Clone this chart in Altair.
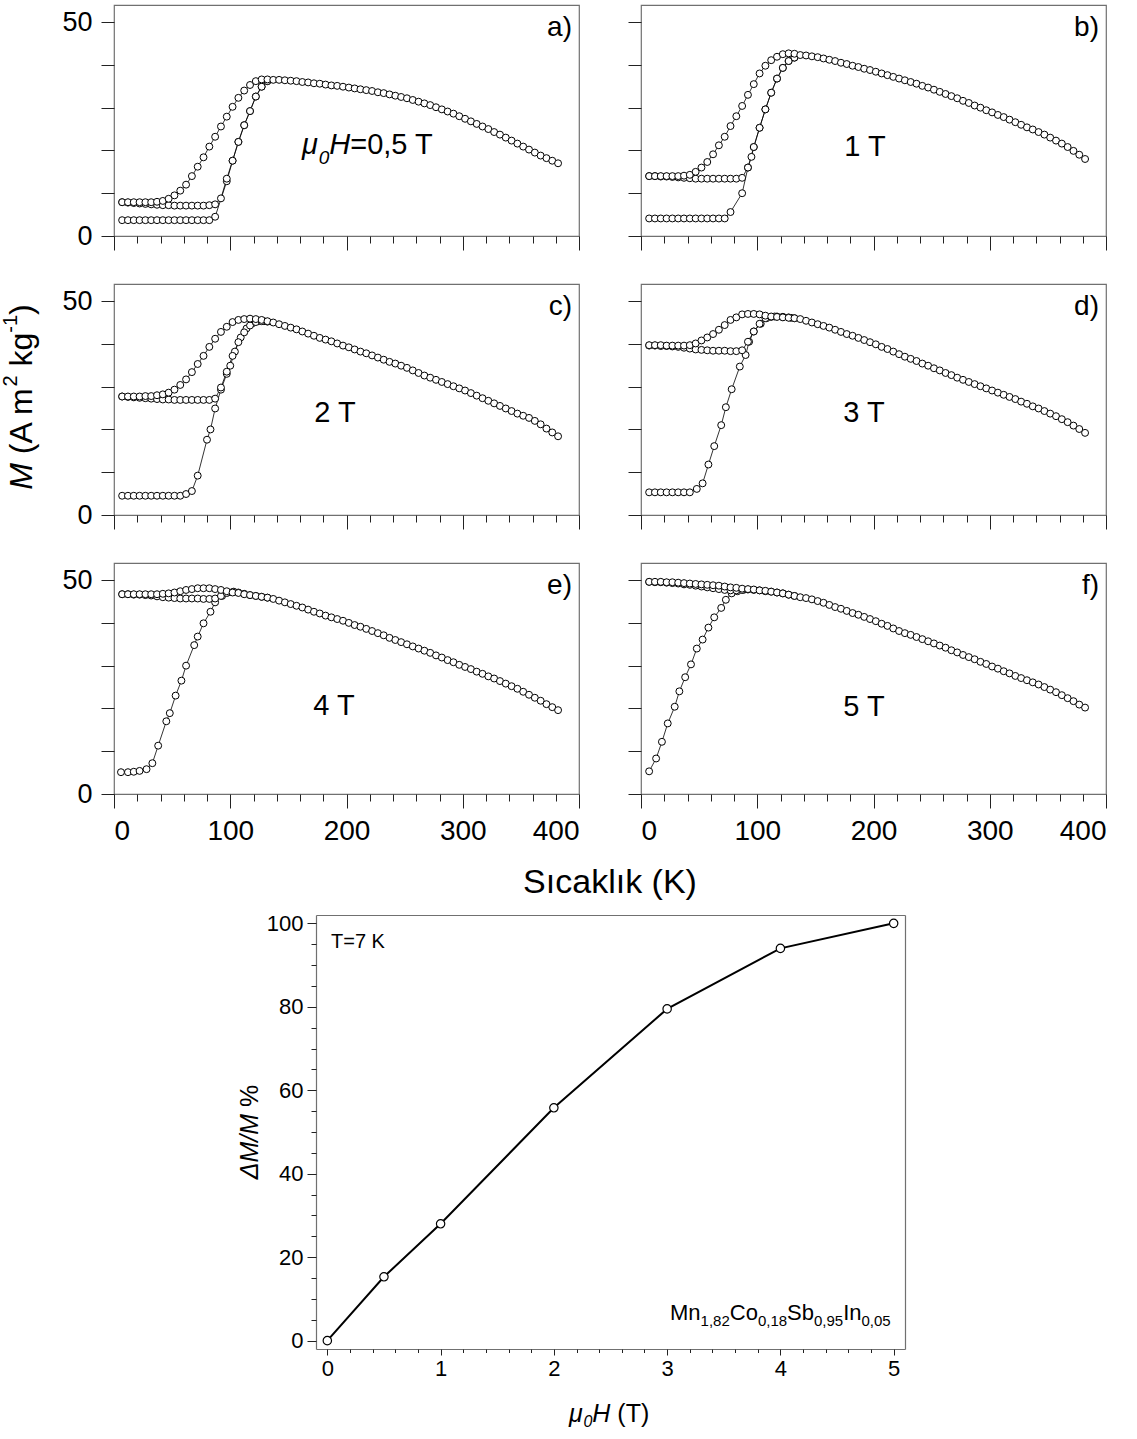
import altair as alt
import pandas as pd

FONT = "Liberation Sans"

# ---------------- data: M(T) curves, six fields ----------------
T_LOW = [7, 12, 17, 22, 27, 32, 37, 42, 47, 52, 57, 62, 67, 72, 77, 82, 87,
         92, 97, 102, 107, 112, 117, 122, 127, 132]
T_MAIN = [137, 142, 147, 152, 157, 162, 167, 172, 177, 182,
          187, 192, 197, 202, 207, 212, 217, 222, 227, 232,
          237, 242, 247, 252, 257, 262, 267, 272, 277, 282,
          287, 292, 297, 302, 307, 312, 317, 322, 327, 332,
          337, 342, 347, 352, 357, 362, 367, 372, 377, 382]

# (a) 0.5 T
a_main = [36.5, 36.5, 36.4, 36.3, 36.2, 36.0, 35.9, 35.7, 35.6, 35.4,
          35.2, 35.1, 34.9, 34.7, 34.5, 34.3, 34.1, 33.9, 33.6, 33.4,
          33.1, 32.8, 32.5, 32.2, 31.8, 31.4, 31.0, 30.6, 30.1, 29.6,
          29.1, 28.6, 28.0, 27.4, 26.8, 26.2, 25.6, 25.0, 24.3, 23.7,
          23.0, 22.3, 21.6, 20.9, 20.2, 19.5, 18.8, 18.2, 17.6, 17.0]
a_fcc = [7.9, 7.9, 7.9, 7.9, 7.9, 7.9, 8.0, 8.2, 8.7, 9.5, 10.6, 12.0, 14.0,
         16.2, 18.4, 20.9, 23.2, 25.6, 27.9, 30.2, 32.3, 34.0, 35.3, 36.2, 36.6, 36.6]
a_fcw = [7.9, 7.8, 7.7, 7.6, 7.5, 7.4, 7.3, 7.2, 7.2, 7.1, 7.1, 7.1, 7.1, 7.1,
         7.1, 7.2, 7.4, 8.8, 13.4, 17.6, 22.0, 25.9, 29.2, 32.6, 34.9, 36.2]
a_zfc_T = [7, 12, 17, 22, 27, 32, 37, 42, 47, 52, 57, 62, 67, 72, 77, 82, 87,
           97, 102, 107, 112, 117, 122, 127, 132]
a_zfc_M = [3.7, 3.7, 3.7, 3.7, 3.7, 3.7, 3.7, 3.7, 3.7, 3.7, 3.7, 3.7, 3.7, 3.7,
           3.7, 3.7, 4.5, 12.8, 17.6, 22.0, 25.9, 29.2, 32.6, 34.9, 36.2]

# (b) 1 T
b_main = [42.3, 42.2, 42.0, 41.8, 41.5, 41.2, 40.9, 40.5, 40.2, 39.8,
          39.5, 39.1, 38.8, 38.4, 38.0, 37.6, 37.2, 36.8, 36.4, 36.0,
          35.6, 35.1, 34.7, 34.2, 33.7, 33.2, 32.7, 32.2, 31.6, 31.1,
          30.5, 30.0, 29.4, 28.9, 28.3, 27.8, 27.2, 26.6, 26.0, 25.4,
          24.9, 24.3, 23.7, 23.0, 22.3, 21.6, 20.8, 19.9, 19.0, 18.0]
b_fcc = [14.0, 14.0, 14.0, 14.0, 14.0, 14.0, 14.1, 14.3, 15.0, 16.0, 17.3, 19.1, 21.2,
         23.2, 25.7, 28.0, 30.4, 33.0, 35.5, 38.0, 39.8, 41.1, 41.9, 42.5, 42.7, 42.6]
b_fcw = [14.0, 14.0, 13.9, 13.9, 13.8, 13.7, 13.6, 13.5, 13.4, 13.4, 13.4, 13.4, 13.4,
         13.4, 13.4, 13.4, 13.6, 16.0, 20.8, 25.3, 29.6, 33.5, 36.8, 39.3, 40.9, 41.7]
b_zfc_T = [7, 12, 17, 22, 27, 32, 37, 42, 47, 52, 57, 62, 67, 72,
           77, 87, 92, 95, 97, 102, 107, 112, 117, 122, 127, 132]
b_zfc_M = [4.1, 4.1, 4.1, 4.1, 4.1, 4.1, 4.1, 4.1, 4.1, 4.1, 4.1, 4.1, 4.1, 4.1,
           5.6, 10.0, 16.0, 18.5, 20.8, 25.3, 29.6, 33.5, 36.8, 39.3, 40.9, 41.7]

# (c) 2 T
c_main = [45.0, 44.6, 44.2, 43.8, 43.4, 42.9, 42.4, 41.9, 41.4, 41.0,
          40.6, 40.1, 39.6, 39.2, 38.7, 38.2, 37.8, 37.3, 36.8, 36.3,
          35.8, 35.4, 34.9, 34.4, 33.8, 33.2, 32.6, 32.1, 31.6, 31.1,
          30.6, 30.1, 29.6, 29.1, 28.5, 27.9, 27.3, 26.7, 26.1, 25.5,
          24.9, 24.3, 23.7, 23.2, 22.7, 22.0, 21.2, 20.2, 19.3, 18.4]
c_fcc = [27.7, 27.7, 27.7, 27.7, 27.8, 27.8, 28.0, 28.2, 28.6, 29.3, 30.4, 31.7, 33.4,
         35.3, 37.2, 39.3, 41.2, 42.8, 44.0, 45.1, 45.6, 45.8, 45.9, 45.8, 45.6, 45.3]
c_fcw = [27.7, 27.6, 27.5, 27.4, 27.3, 27.2, 27.1, 27.0, 27.0, 26.9, 26.9, 26.9, 26.9,
         26.9, 26.9, 26.9, 27.2, 29.8, 33.5, 37.2, 40.4, 42.7, 44.3, 45.1, 45.3, 45.2]
c_zfc_T = [7, 12, 17, 22, 27, 32, 37, 42, 47, 52, 57, 62, 67, 72, 80, 83, 87,
           92, 97, 100, 104, 109, 114, 119, 124, 129]
c_zfc_M = [4.5, 4.5, 4.5, 4.5, 4.5, 4.5, 4.5, 4.5, 4.5, 4.5, 4.5, 4.9, 5.6, 9.2,
           17.6, 20.0, 24.9, 29.3, 33.0, 34.9, 38.2, 41.5, 43.6, 44.8, 45.3, 45.3]

# (d) 3 T
d_main = [45.8, 45.4, 45.0, 44.6, 44.2, 43.8, 43.3, 42.8, 42.3, 41.9,
          41.4, 40.9, 40.4, 39.9, 39.3, 38.8, 38.2, 37.6, 37.0, 36.5,
          36.0, 35.4, 34.9, 34.3, 33.8, 33.2, 32.7, 32.1, 31.6, 31.1,
          30.6, 30.1, 29.6, 29.1, 28.6, 28.1, 27.6, 27.1, 26.5, 26.0,
          25.4, 24.9, 24.3, 23.7, 23.1, 22.4, 21.7, 20.9, 20.1, 19.2]
d_fcc = [39.7, 39.7, 39.7, 39.6, 39.6, 39.6, 39.6, 39.7, 40.1, 40.8, 41.5, 42.3, 43.3,
         44.4, 45.6, 46.2, 46.9, 47.0, 47.0, 46.9, 46.6, 46.4, 46.3, 46.2, 46.1, 46.0]
d_fcw = [39.6, 39.6, 39.5, 39.5, 39.4, 39.3, 39.1, 38.9, 38.7, 38.6, 38.5, 38.4, 38.4,
         38.4, 38.3, 38.3, 38.5, 40.5, 42.9, 44.7, 46.0, 46.3, 46.4, 46.3, 46.2, 46.0]
d_zfc_T = [7, 12, 17, 22, 27, 32, 37, 42, 48, 53, 58, 63, 69, 73, 78, 85, 90,
           93, 97, 103, 108, 115, 122, 129]
d_zfc_M = [5.3, 5.3, 5.3, 5.3, 5.3, 5.3, 5.3, 5.3, 6.1, 7.4, 11.8, 16.1, 21.0, 25.2,
           29.4, 34.7, 37.4, 40.5, 42.9, 44.7, 46.0, 46.4, 46.3, 46.1]

# (e) 4 T
e_main = [45.6, 45.2, 44.8, 44.4, 44.0, 43.6, 43.1, 42.6, 42.2, 41.7,
          41.3, 40.9, 40.5, 40.0, 39.5, 39.1, 38.6, 38.1, 37.6, 37.1,
          36.5, 36.0, 35.5, 35.0, 34.5, 34.0, 33.5, 33.0, 32.4, 31.9,
          31.3, 30.8, 30.2, 29.7, 29.2, 28.6, 28.1, 27.5, 27.0, 26.4,
          25.8, 25.2, 24.6, 23.9, 23.2, 22.5, 21.8, 21.0, 20.3, 19.6]
e_fcc = [46.7, 46.7, 46.7, 46.7, 46.7, 46.7, 46.7, 46.8, 46.9, 47.1, 47.4, 47.7, 47.9,
         48.1, 48.1, 48.1, 47.9, 47.7, 47.4, 47.1, 47.0, 46.7, 46.5, 46.3, 46.1, 45.9]
e_fcw = [46.7, 46.7, 46.6, 46.6, 46.5, 46.4, 46.2, 46.0, 45.9, 45.8, 45.7, 45.7, 45.7,
         45.7, 45.6, 45.6, 45.7, 46.3, 47.0, 47.2, 47.1, 46.8, 46.5, 46.3, 46.1, 45.9]
e_zfc_T = [6, 12, 17, 22, 28, 33, 38, 45, 48, 53, 58, 62, 69, 72, 77, 83, 87, 93, 98, 103]
e_zfc_M = [5.1, 5.1, 5.2, 5.4, 5.8, 7.2, 11.3, 17.0, 18.9, 23.0, 26.5, 30.0, 34.8,
           36.8, 39.9, 42.6, 44.8, 46.3, 47.1, 47.3]

# (f) 5 T
f_main = [46.0, 45.8, 45.5, 45.1, 44.7, 44.2, 43.7, 43.3, 42.8, 42.3,
          41.9, 41.4, 40.9, 40.4, 39.8, 39.3, 38.7, 38.1, 37.6, 37.2,
          36.7, 36.2, 35.7, 35.2, 34.7, 34.2, 33.6, 33.1, 32.5, 32.0,
          31.5, 30.9, 30.4, 29.8, 29.3, 28.7, 28.2, 27.6, 27.1, 26.6,
          26.1, 25.6, 25.0, 24.4, 23.8, 23.1, 22.4, 21.7, 20.9, 20.2]
f_fcc = [49.6, 49.6, 49.6, 49.5, 49.5, 49.4, 49.3, 49.2, 49.1, 49.0, 48.9, 48.8, 48.7,
         48.5, 48.3, 48.2, 48.0, 47.9, 47.8, 47.6, 47.5, 47.3, 47.1, 46.9, 46.6, 46.3]
f_fcw = [49.6, 49.5, 49.5, 49.4, 49.3, 49.2, 49.0, 48.9, 48.7, 48.5, 48.3, 48.1, 47.9,
         47.7, 47.6, 47.6, 47.7, 47.8, 47.7, 47.6, 47.4, 47.3, 47.1, 46.9, 46.6, 46.3]
f_zfc_T = [7, 13, 18, 23, 29, 33, 38, 43, 48, 53, 58, 63, 69, 73, 78, 83, 88]
f_zfc_M = [5.3, 8.3, 12.2, 16.5, 20.4, 24.0, 27.3, 30.3, 34.0, 36.1, 38.9, 41.3, 43.5,
           45.4, 46.9, 47.4, 47.7]

# bottom panel: relative change at T = 7 K
FIELD = [0, 0.5, 1, 2, 3, 4, 5]
DMM = [0, 15.3, 28.0, 55.8, 79.5, 94.0, 100]

PANEL_LETTERS = ["a)", "b)", "c)", "d)", "e)", "f)"]
FIELD_TEXT = ["", "1 T", "2 T", "3 T", "4 T", "5 T"]

# ---------------- helpers ----------------
ONE = pd.DataFrame({"k": [0]})
W, H = 465, 231
XS = alt.Scale(domain=[0, 400], nice=False, zero=False)
YS = alt.Scale(domain=[0, 54], nice=False, zero=False)
TICK = "#222222"
FRAME = "#707070"


def txt(text, x, y, size, style="normal", align="left", baseline="alphabetic", angle=0):
    return alt.Chart(ONE).mark_text(
        text=text, font=FONT, fontSize=size, fontStyle=style, align=align,
        baseline=baseline, angle=angle, color="black"
    ).encode(x=alt.value(x), y=alt.value(y))


def panel_df(main, fcc, fcw, zT, zM):
    rows = []
    for name, Ts, Ms in [("zfc", zT, zM), ("fcw", T_LOW, fcw), ("fcc", T_LOW, fcc),
                         ("main", T_MAIN, main)]:
        for i, (t, m) in enumerate(zip(Ts, Ms)):
            rows.append({"T": t, "M": m, "branch": name, "idx": i})
    return pd.DataFrame(rows)


def panel(df, letter, extra, left, bottom):
    yax = alt.Axis(values=[0, 10, 20, 30, 40, 50], tickSize=13, labels=left,
                   labelExpr="datum.value % 50 == 0 ? datum.label : ''",
                   labelFontSize=27, labelPadding=9, title=None, orient="left")
    xmaj = alt.Axis(values=[0, 100, 200, 300, 400], tickSize=14, labels=bottom,
                    labelFontSize=28, labelPadding=9, title=None, orient="bottom")
    xmin = alt.Axis(values=[20, 40, 60, 80, 120, 140, 160, 180, 220, 240, 260, 280,
                            320, 340, 360, 380],
                    tickSize=7, labels=False, title=None, orient="bottom")
    lines = alt.Chart(df).mark_line(color="black", strokeWidth=0.8).encode(
        x=alt.X("T:Q", scale=XS, axis=xmaj),
        y=alt.Y("M:Q", scale=YS, axis=yax),
        detail="branch:N",
        order="idx:Q",
    )
    pts = alt.Chart(df).mark_point(
        filled=True, fill="white", stroke="black", strokeWidth=1, size=48, opacity=1,
        fillOpacity=1, shape="circle"
    ).encode(
        x=alt.X("T:Q", scale=XS, axis=xmin),
        y=alt.Y("M:Q", scale=YS, axis=None),
    )
    layers = [lines, pts, txt(letter, W - 7, 31, 28, align="right")] + extra
    return alt.layer(*layers).resolve_axis(
        x="independent", y="independent"
    ).properties(width=W, height=H)


# field labels
lab_a = [
    txt("\u03bc", 188, 149, 29, style="italic"),
    txt("0", 204.7, 159, 19, style="italic"),
    txt("H", 215.3, 149, 29, style="italic"),
    txt("=0,5 T", 236.2, 149, 29),
]
lab_b = [txt(FIELD_TEXT[1], 224, 151, 29, align="center")]
lab_c = [txt(FIELD_TEXT[2], 221, 138, 29, align="center")]
lab_d = [txt(FIELD_TEXT[3], 223, 138, 29, align="center")]
lab_e = [txt(FIELD_TEXT[4], 220, 152, 29, align="center")]
lab_f = [txt(FIELD_TEXT[5], 223, 153, 29, align="center")]

# y title on panel c (rotated, reads upward); pieces placed without leading spaces
ytitle = [
    txt("M", -82, 205.75, 32, style="italic", angle=270),
    txt("(A m", -82, 170.15, 32, angle=270),
    txt("2", -97, 102.55, 20, angle=270),
    txt("kg", -82, 82.55, 32, angle=270),
    txt("-1", -97, 48.75, 20, angle=270),
    txt(")", -82, 30.95, 32, angle=270),
]
# x title under bottom row (placed on panel e)
xtitle = [txt("S\u0131cakl\u0131k (K)", 496, 330, 34, align="center")]

pa = panel(panel_df(a_main, a_fcc, a_fcw, a_zfc_T, a_zfc_M), PANEL_LETTERS[0], lab_a, True, False)
pb = panel(panel_df(b_main, b_fcc, b_fcw, b_zfc_T, b_zfc_M), PANEL_LETTERS[1], lab_b, False, False)
pc = panel(panel_df(c_main, c_fcc, c_fcw, c_zfc_T, c_zfc_M), PANEL_LETTERS[2], lab_c + ytitle, True, False)
pd_ = panel(panel_df(d_main, d_fcc, d_fcw, d_zfc_T, d_zfc_M), PANEL_LETTERS[3], lab_d, False, False)
pe = panel(panel_df(e_main, e_fcc, e_fcw, e_zfc_T, e_zfc_M), PANEL_LETTERS[4], lab_e + xtitle, True, True)
pf = panel(panel_df(f_main, f_fcc, f_fcw, f_zfc_T, f_zfc_M), PANEL_LETTERS[5], lab_f, False, True)


def spacer(w, h):
    return alt.Chart(ONE).mark_point(opacity=0).encode(
        x=alt.X("k:Q", axis=None), y=alt.Y("k:Q", axis=None)
    ).properties(width=w, height=h, view=alt.ViewBackground(stroke="transparent"))


# ---------------- bottom panel ----------------
# It sits in the right column cell; its x range reaches left of the cell origin.
SHIFT = 325          # distance from the cell origin back to the frame's left edge
BW, BH = 264, 434    # cell-origin-to-frame-right width, frame height
bdf = pd.DataFrame({"H": FIELD, "D": DMM})
BXS = alt.Scale(domain=[-0.1, 5.1], range=[-SHIFT, BW], nice=False, zero=False)
BYS = alt.Scale(domain=[-2, 102], nice=False, zero=False)
bxmaj = alt.Axis(values=[0, 1, 2, 3, 4, 5], tickSize=6, labelFontSize=22, labelPadding=3,
                 title=None, orient="bottom", domain=True, domainColor=FRAME, domainWidth=1.2)
bxmin = alt.Axis(values=[round(0.2 * k, 1) for k in range(26)], tickSize=3.5, labels=False,
                 title=None, orient="bottom")
bymaj = alt.Axis(values=[0, 20, 40, 60, 80, 100], tickSize=9, labelFontSize=22, labelPadding=4,
                 title=None, orient="left", offset=SHIFT, domain=True, domainColor=FRAME,
                 domainWidth=1.2)
bymin = alt.Axis(values=[5 * k for k in range(21)], tickSize=5, labels=False, title=None,
                 orient="left", offset=SHIFT)
bxtop = alt.Axis(orient="top", ticks=False, labels=False, title=None, domain=True,
                 domainColor=FRAME, domainWidth=1.2)
byright = alt.Axis(orient="right", ticks=False, labels=False, title=None, domain=True,
                   domainColor=FRAME, domainWidth=1.2)

bline = alt.Chart(bdf).mark_line(color="black", strokeWidth=2).encode(
    x=alt.X("H:Q", scale=BXS, axis=bxmaj),
    y=alt.Y("D:Q", scale=BYS, axis=bymaj),
)
bpts = alt.Chart(bdf).mark_point(
    filled=True, fill="white", stroke="black", strokeWidth=1.2, size=70, opacity=1,
    fillOpacity=1, shape="circle"
).encode(
    x=alt.X("H:Q", scale=BXS, axis=bxmin),
    y=alt.Y("D:Q", scale=BYS, axis=bymin),
)
bframe = alt.Chart(bdf).mark_point(opacity=0).encode(
    x=alt.X("H:Q", scale=BXS, axis=bxtop),
    y=alt.Y("D:Q", scale=BYS, axis=byright),
)
S = -SHIFT
btexts = [
    txt("T=7 K", S + 15, 27, 20, baseline="middle"),
    txt("Mn", S + 354, 405, 22),
    txt("1,82", S + 384.6, 411, 15),
    txt("Co", S + 413.8, 405, 22),
    txt("0,18", S + 441.9, 411, 15),
    txt("Sb", S + 471.1, 405, 22),
    txt("0,95", S + 498.0, 411, 15),
    txt("In", S + 527.2, 405, 22),
    txt("0,05", S + 545.5, 411, 15),
    # y title
    txt("\u0394M/M", S - 58, 264.25, 25, style="italic", angle=270),
    txt("%", S - 58, 192.0, 25, angle=270),
    # x title
    txt("\u03bc", S + 253, 507, 25, style="italic"),
    txt("0", S + 267.4, 512, 16, style="italic"),
    txt("H", S + 276.3, 507, 25, style="italic"),
    txt("(T)", S + 301.35, 507, 25),
]
bottom = alt.layer(bframe, bline, bpts, *btexts).resolve_axis(
    x="independent", y="independent"
).properties(width=BW, height=BH, view=alt.ViewBackground(stroke="transparent"))

chart = alt.concat(
    pa, pb, pc, pd_, pe, pf,
    spacer(W, 25), spacer(W, 25),
    spacer(20, 20), bottom,
    columns=2,
    spacing={"row": 48, "column": 62},
    bounds="flush",
    align="each",
).properties(
    # an invisible band is reserved right of the grid; trim it so the page fits
    padding={"left": 0, "top": 4, "right": -100, "bottom": 3},
    background="white",
).configure_view(
    stroke=FRAME, strokeWidth=1.2
).configure_axis(
    grid=False, domain=False, tickColor=TICK, tickWidth=1,
    labelColor="black", labelFont=FONT, titleFont=FONT
)

chart.save("out.html", embed_options={"renderer": "svg", "actions": False})
